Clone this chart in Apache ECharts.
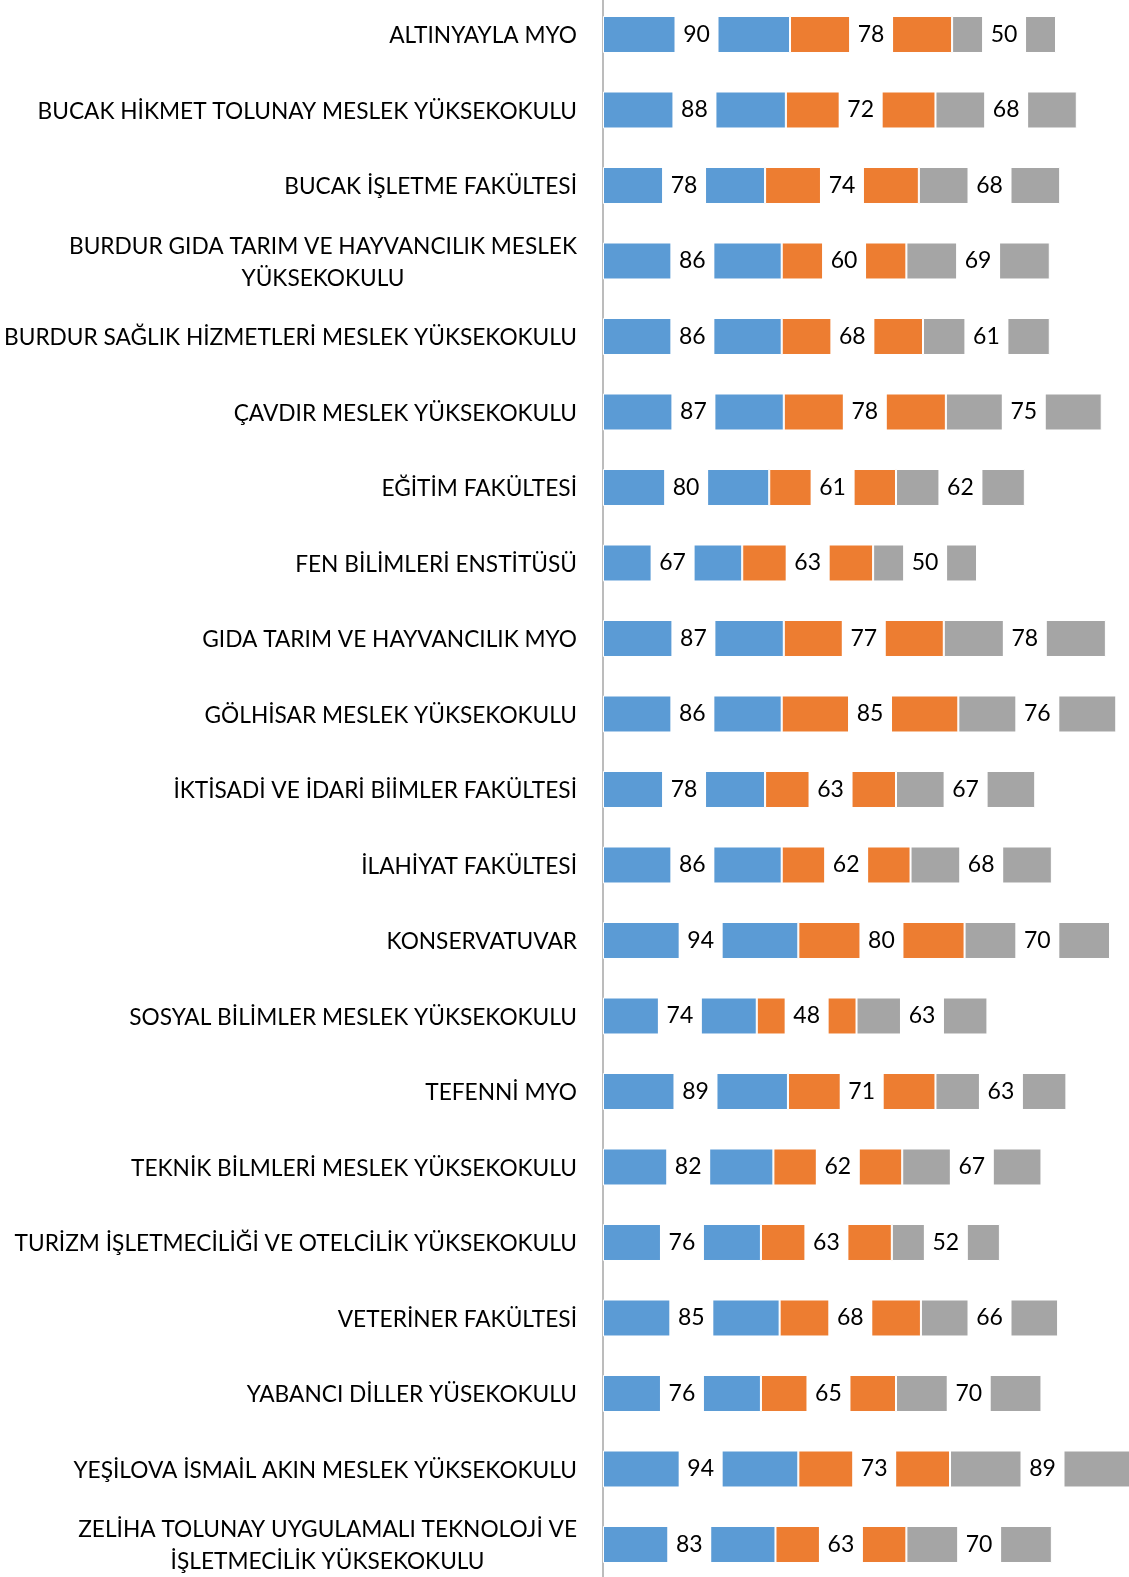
<!DOCTYPE html>
<html>
<head>
<meta charset="utf-8">
<script src="https://cdn.jsdelivr.net/npm/echarts@6/dist/echarts.min.js"></script>
<style>
  html, body { margin: 0; padding: 0; background: #fff; }
  #chart { width: 1129px; height: 1577px; }
</style>
</head>
<body>
<div id="chart"></div>
<script>
// categories, top to bottom
const units = [
  'ALTINYAYLA MYO',
  'BUCAK HİKMET TOLUNAY MESLEK YÜKSEKOKULU',
  'BUCAK İŞLETME FAKÜLTESİ',
  'BURDUR GIDA TARIM VE HAYVANCILIK MESLEK\nYÜKSEKOKULU',
  'BURDUR SAĞLIK HİZMETLERİ MESLEK YÜKSEKOKULU',
  'ÇAVDIR MESLEK YÜKSEKOKULU',
  'EĞİTİM FAKÜLTESİ',
  'FEN BİLİMLERİ ENSTİTÜSÜ',
  'GIDA TARIM VE HAYVANCILIK MYO',
  'GÖLHİSAR MESLEK YÜKSEKOKULU',
  'İKTİSADİ VE İDARİ BİİMLER FAKÜLTESİ',
  'İLAHİYAT FAKÜLTESİ',
  'KONSERVATUVAR',
  'SOSYAL BİLİMLER MESLEK YÜKSEKOKULU',
  'TEFENNİ MYO',
  'TEKNİK BİLMLERİ MESLEK YÜKSEKOKULU',
  'TURİZM İŞLETMECİLİĞİ VE OTELCİLİK YÜKSEKOKULU',
  'VETERİNER FAKÜLTESİ',
  'YABANCI DİLLER YÜSEKOKULU',
  'YEŞİLOVA İSMAİL AKIN MESLEK YÜKSEKOKULU',
  'ZELİHA TOLUNAY UYGULAMALI TEKNOLOJİ VE\nİŞLETMECİLİK YÜKSEKOKULU'
]

const blueVals = [90, 88, 78, 86, 86, 87, 80, 67, 87, 86, 78, 86, 94, 74, 89, 82, 76, 85, 76, 94, 83]
const orangeVals = [78, 72, 74, 60, 68, 78, 61, 63, 77, 85, 63, 62, 80, 48, 71, 62, 63, 68, 65, 73, 63]
const grayVals = [50, 68, 68, 69, 61, 75, 62, 50, 78, 76, 67, 68, 70, 63, 63, 67, 52, 66, 70, 89, 70]

const FONT = 'Lato'
const SIZE = 22.7
const chart = echarts.init(document.getElementById('chart'), null, { renderer: 'canvas' })

function makeSeries (name, color, data) {
  return {
    name: name,
    type: 'bar',
    stack: 'all',
    barWidth: '49%',
    data: data,
    itemStyle: { color: color, borderColor: '#fff', borderWidth: 1 },
    label: {
      show: true,
      position: 'inside',
      color: '#000',
      fontFamily: FONT,
      fontSize: 23,
      backgroundColor: '#fff',
      width: 44,
      height: 37,
      lineHeight: 37,
      align: 'center',
      verticalAlign: 'middle'
    }
  }
}

const option = {
  animation: false,
  backgroundColor: '#fff',
  grid: {
    left: 603,
    top: -3.25,
    width: 260 * 2.078,
    height: 1585.5,
    containLabel: false,
    outerBoundsMode: 'none'
  },
  xAxis: {
    type: 'value',
    min: 0,
    max: 260,
    show: false,
    splitLine: { show: false }
  },
  yAxis: {
    type: 'category',
    inverse: true,
    data: units,
    axisTick: { show: false },
    axisLine: { show: true, lineStyle: { color: '#a6a6a6', width: 1.5 } },
    axisLabel: {
      margin: 26,
      color: '#000',
      fontFamily: FONT,
      fontSize: SIZE,
      lineHeight: 32,
      formatter: function (v) {
        return v.split('\n').map(s => '{c|' + s + '}').join('\n')
      },
      rich: {
        c: { align: 'center', fontFamily: FONT, fontSize: SIZE, lineHeight: 32, color: '#000', padding: [3, 0, 0, 0] }
      }
    }
  },
  series: [
    makeSeries('blue', '#5b9bd5', blueVals),
    makeSeries('orange', '#ed7d31', orangeVals),
    makeSeries('gray', '#a5a5a5', grayVals)
  ]
}

chart.setOption(option)
</script>
</body>
</html>
